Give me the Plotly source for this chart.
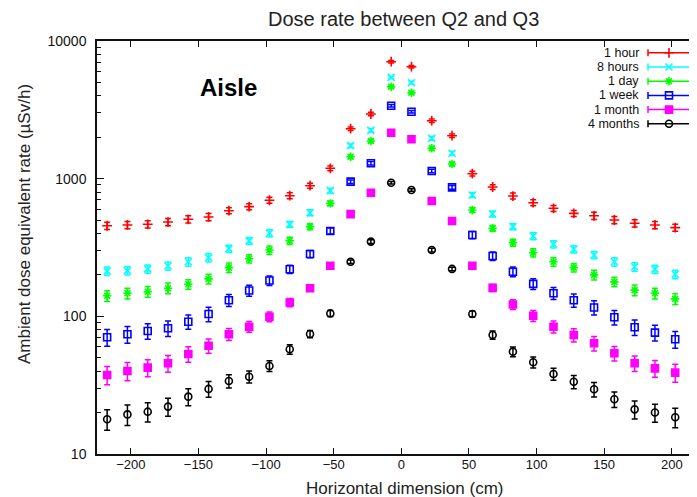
import plotly.graph_objects as go

# ---- data ----
x_cm = [-217.5, -202.5, -187.5, -172.5, -157.5, -142.5, -127.5, -112.5, -97.5, -82.5,
        -67.5, -52.5, -37.5, -22.5, -7.5, 7.5, 22.5, 37.5, 52.5, 67.5,
        82.5, 97.5, 112.5, 127.5, 142.5, 157.5, 172.5, 187.5, 202.5, 217.5]

series_names = ["1 hour", "8 hours", "1 day", "1 week", "1 month", "4 months"]

hour1 = [455, 461, 466, 484, 507, 527, 585, 626, 697, 752, 889, 1189, 2307, 2949, 7073,
         6507, 2636, 2051, 1087, 870, 748, 669, 609, 560, 538, 501, 474, 461, 441, 428]
hours8 = [213, 215, 221, 232, 249, 267, 310, 353, 401, 466, 566, 818, 1736, 2245, 5448,
          4978, 1964, 1529, 761, 554, 448, 383, 334, 307, 279, 249, 229, 220, 202, 189]
day1 = [141, 147, 151, 160, 171, 187, 226, 262, 303, 354, 448, 662, 1444, 1877, 4656,
        4212, 1662, 1278, 592, 436, 343, 290, 249, 226, 200, 178, 155, 147, 134, 124]
week1 = [70.4, 74.1, 78.3, 81.9, 91.4, 104, 131, 154, 182, 220, 284, 417, 951, 1293, 3388,
         3066, 1137, 865, 390, 274, 211, 172, 147, 131, 116, 98.4, 83.3, 76.1, 68.1, 61.9]
month1 = [37.5, 40.1, 42.4, 45.6, 53.3, 61.2, 74.1, 84.1, 99.4, 126, 160, 233, 553, 791, 2157,
          1932, 688, 493, 233, 161, 122, 101, 84.1, 73.2, 63.7, 53.9, 45.6, 41.9, 39.0, 35.5]
months4 = [17.9, 19.4, 20.3, 22.1, 26.1, 29.7, 33.9, 36.4, 43.6, 57.6, 74.4, 105, 249, 349, 935,
           827, 303, 221, 104, 73.2, 55.4, 46.4, 38.1, 33.5, 29.5, 25.0, 21.1, 20.0, 18.5, 17.2]

# relative errors (%)
err_hour1 = [6, 6, 6, 6, 6, 6, 5, 5, 5, 5, 4, 4, 3, 3, 2, 2, 3, 3, 4, 4, 5, 5, 5, 5, 6, 6, 6, 6, 6, 6]
err_hours8 = [7, 7, 7, 7, 7, 7, 6, 6, 6, 5, 5, 4, 3, 3, 2, 2, 3, 3, 4, 5, 5, 6, 6, 6, 6, 7, 7, 7, 7, 7]
err_day1 = [9, 9, 9, 9, 8, 8, 8, 7, 7, 6, 5, 4, 3, 3, 2, 2, 3, 3, 4, 5, 6, 7, 7, 7, 8, 8, 9, 9, 9, 9]
err_week1 = [14, 14, 13, 13, 12, 12, 10, 9, 8, 7, 6, 5, 3, 3, 2, 2, 3, 3, 6, 7, 8, 9, 10, 11, 12, 12, 13, 13, 14, 14]
err_month1 = [15, 15, 14, 14, 13, 12, 10, 9, 8, 7, 5, 4, 3, 2, 2, 2, 2, 3, 5, 6, 8, 9, 10, 11, 12, 12, 13, 14, 15, 15]
err_months4 = [17, 17, 16, 15, 14, 13, 11, 10, 9, 8, 6, 5, 3, 3, 2, 2, 3, 3, 5, 7, 8, 9, 10, 11, 12, 13, 15, 15, 16, 17]

y_tick_vals = [10, 100, 1000, 10000]
y_tick_text = ["10", "100", "1000", "10000"]
y_minor_vals = [20, 30, 40, 50, 60, 70, 80, 90,
                200, 300, 400, 500, 600, 700, 800, 900,
                2000, 3000, 4000, 5000, 6000, 7000, 8000, 9000]
x_tick_vals = [-200, -150, -100, -50, 0, 50, 100, 150, 200]

values = [hour1, hours8, day1, week1, month1, months4]
errors = [err_hour1, err_hours8, err_day1, err_week1, err_month1, err_months4]

# ---- style ----
colors = ["#ff0000", "#00ffff", "#00ff00", "#0000ff", "#ff00ff", "#000000"]
symbols = ["cross-thin-open", "x-thin-open", "asterisk-open", "square-open", "square", "circle-open"]

# window coordinates (page body has an 8px margin)
OFF = 8
WIN_W, WIN_H = 697, 497
W, H = WIN_W - OFF, WIN_H - OFF
PL, PR, PT, PB = 97, 697, 41, 454          # plot area in window pixels
L, R, T, B = PL - OFF, WIN_W - PR, PT - OFF, WIN_H - PB
FONT = "Liberation Sans, Arial, Helvetica, sans-serif"

def px(p):
    return (p - PL) / (PR - PL)

def py(p):
    return (PB - p) / (PB - PT)

fig = go.Figure()
for name, v, e, c, s in zip(series_names, values, errors, colors, symbols):
    fig.add_trace(go.Scatter(
        x=x_cm, y=v, mode="markers", name=name, showlegend=False,
        marker=dict(symbol=s, size=7, color=c, line=dict(color=c, width=1.6)),
        error_y=dict(type="data", array=[vi * ei / 100 for vi, ei in zip(v, e)],
                     visible=True, color=c, thickness=1.5, width=3),
    ))

# ---- manual gnuplot-style legend ----
shapes = []
annotations = []
LEG_TOP, LEG_STEP = 52.8, 14.2
lx0, lx1, lxm = 648, 690, 669
for k, (name, c, s) in enumerate(zip(series_names, colors, symbols)):
    yy = LEG_TOP + k * LEG_STEP
    shapes.append(dict(type="line", xref="paper", yref="paper", x0=px(lx0), x1=px(lx1),
                       y0=py(yy), y1=py(yy), line=dict(color=c, width=1.5)))
    for xc in (lx0, lx1):
        shapes.append(dict(type="line", xref="paper", yref="paper", x0=px(xc), x1=px(xc),
                           y0=py(yy - 3.5), y1=py(yy + 3.5), line=dict(color=c, width=1.5)))
    annotations.append(dict(text=name, xref="paper", yref="paper", x=px(641), y=py(yy),
                            xanchor="right", yanchor="middle", showarrow=False,
                            font=dict(family=FONT, size=12.5, color="#111111")))
    fig.add_trace(go.Scatter(
        x=[px(lxm)], y=[py(yy)], xaxis="x2", yaxis="y2", mode="markers", showlegend=False,
        hoverinfo="skip",
        marker=dict(symbol=s, size=7, color=c, line=dict(color=c, width=1.6)),
    ))

annotations.append(dict(text="Dose rate between Q2 and Q3", xref="paper", yref="paper",
                        x=px(403), y=py(19), xanchor="center", yanchor="middle", showarrow=False,
                        font=dict(family=FONT, size=20, color="#222222")))
annotations.append(dict(text="<b>Aisle</b>", xref="paper", yref="paper",
                        x=px(228), y=py(87), xanchor="center", yanchor="middle", showarrow=False,
                        font=dict(family=FONT, size=24, color="#000000")))
annotations.append(dict(text="Horizontal dimension (cm)", xref="paper", yref="paper",
                        x=px(404), y=py(488), xanchor="center", yanchor="middle", showarrow=False,
                        font=dict(family=FONT, size=17, color="#222222")))
annotations.append(dict(text="Ambient dose equivalent rate (µSv/h)", xref="paper", yref="paper",
                        x=px(25), y=py(224), xanchor="center", yanchor="middle", showarrow=False,
                        textangle=-90,
                        font=dict(family=FONT, size=17, color="#222222")))

fig.update_layout(
    width=W, height=H,
    margin=dict(l=L, r=R, t=T, b=B, pad=0),
    paper_bgcolor="white", plot_bgcolor="white",
    showlegend=False,
    font=dict(family=FONT, size=14, color="#111111"),
    shapes=shapes, annotations=annotations,
    xaxis=dict(range=[-225, 218.6], tickvals=x_tick_vals, ticks="inside", ticklen=6,
               tickwidth=1.2, tickcolor="#111111", showline=True, linecolor="#111111",
               linewidth=1.5, mirror="ticks", showgrid=False, zeroline=False,
               ticklabelstandoff=-2,
               tickfont=dict(family=FONT, size=13, color="#111111")),
    yaxis=dict(type="log", range=[1, 4], tickvals=y_tick_vals, ticktext=y_tick_text,
               ticks="inside", ticklen=7, tickwidth=1.2, tickcolor="#111111",
               showline=True, linecolor="#111111", linewidth=1.5, mirror=False,
               showgrid=False, zeroline=False, ticklabelstandoff=6,
               minor=dict(tickvals=y_minor_vals, ticks="inside", ticklen=4,
                          tickcolor="#111111", tickwidth=1, showgrid=False),
               tickfont=dict(family=FONT, size=14, color="#111111")),
    xaxis2=dict(domain=[0, 1], range=[0, 1], overlaying="x", anchor="y2", visible=False),
    yaxis2=dict(domain=[0, 1], range=[0, 1], overlaying="y", anchor="x2", visible=False),
)

fig.write_html("out.html")
